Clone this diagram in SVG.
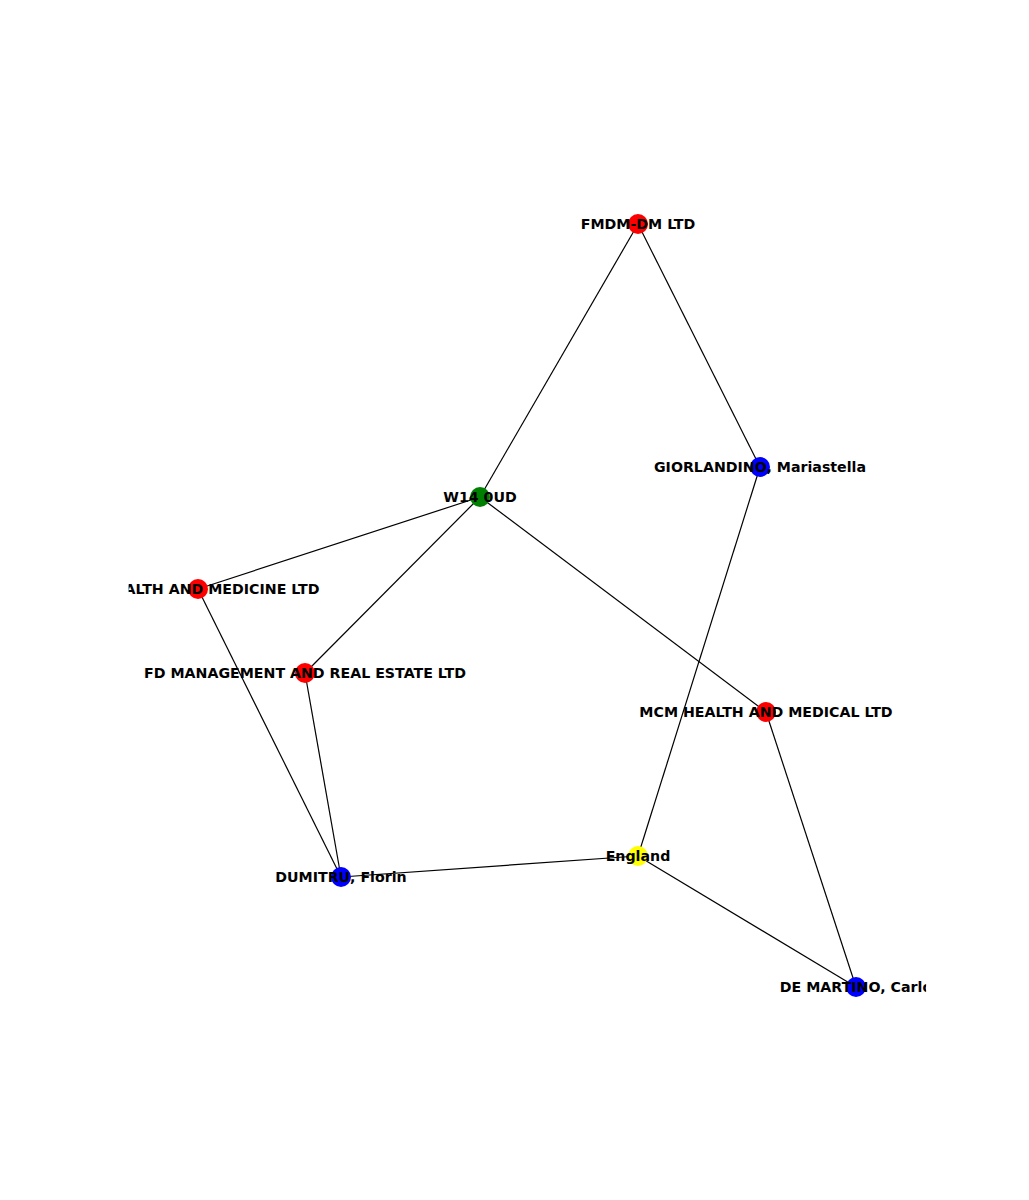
<svg xmlns="http://www.w3.org/2000/svg" width="1029" height="1200" viewBox="0 0 1029 1200">
<style>
.e{stroke:#000;stroke-width:1.2;fill:none}
text{font-family:"DejaVu Sans",sans-serif;font-weight:bold;font-size:14.2px;text-anchor:middle;dominant-baseline:central;fill:#000}
</style>
<defs><clipPath id="c"><rect x="128.6" y="144" width="797.5" height="924"/></clipPath></defs>
<rect width="1029" height="1200" fill="#fff"/>
<g clip-path="url(#c)">
<g id="edges">
<line class="e" x1="638" y1="224" x2="480" y2="497"/>
<line class="e" x1="638" y1="224" x2="760" y2="467"/>
<line class="e" x1="760" y1="467" x2="638" y2="856"/>
<line class="e" x1="480" y1="497" x2="198" y2="589"/>
<line class="e" x1="480" y1="497" x2="305" y2="673"/>
<line class="e" x1="480" y1="497" x2="766" y2="712"/>
<line class="e" x1="198" y1="589" x2="341" y2="877"/>
<line class="e" x1="305" y1="673" x2="341" y2="877"/>
<line class="e" x1="766" y1="712" x2="856" y2="987"/>
<line class="e" x1="638" y1="856" x2="341" y2="877"/>
<line class="e" x1="638" y1="856" x2="856" y2="987"/>
</g>
<g id="n1"><circle cx="638" cy="224" r="10" fill="#f00"/><text x="638" y="224">FMDM-DM LTD</text></g>
<g id="n2"><circle cx="760" cy="467" r="10" fill="#00f"/><text x="760" y="467">GIORLANDINO, Mariastella</text></g>
<g id="n3"><circle cx="480" cy="497" r="10" fill="#008000"/><text x="480" y="497">W14 0UD</text></g>
<g id="n4"><circle cx="198" cy="589" r="10" fill="#f00"/><text x="198" y="589">FD HEALTH AND MEDICINE LTD</text></g>
<g id="n5"><circle cx="305" cy="673" r="10" fill="#f00"/><text x="305" y="673">FD MANAGEMENT AND REAL ESTATE LTD</text></g>
<g id="n6"><circle cx="766" cy="712" r="10" fill="#f00"/><text x="766" y="712">MCM HEALTH AND MEDICAL LTD</text></g>
<g id="n7"><circle cx="638" cy="856" r="10" fill="#ff0"/><text x="638" y="856">England</text></g>
<g id="n8"><circle cx="341" cy="877" r="10" fill="#00f"/><text x="341" y="877">DUMITRU, Florin</text></g>
<g id="n9"><circle cx="856" cy="987" r="10" fill="#00f"/><text x="856" y="987">DE MARTINO, Carlo</text></g>
</g>
</svg>
